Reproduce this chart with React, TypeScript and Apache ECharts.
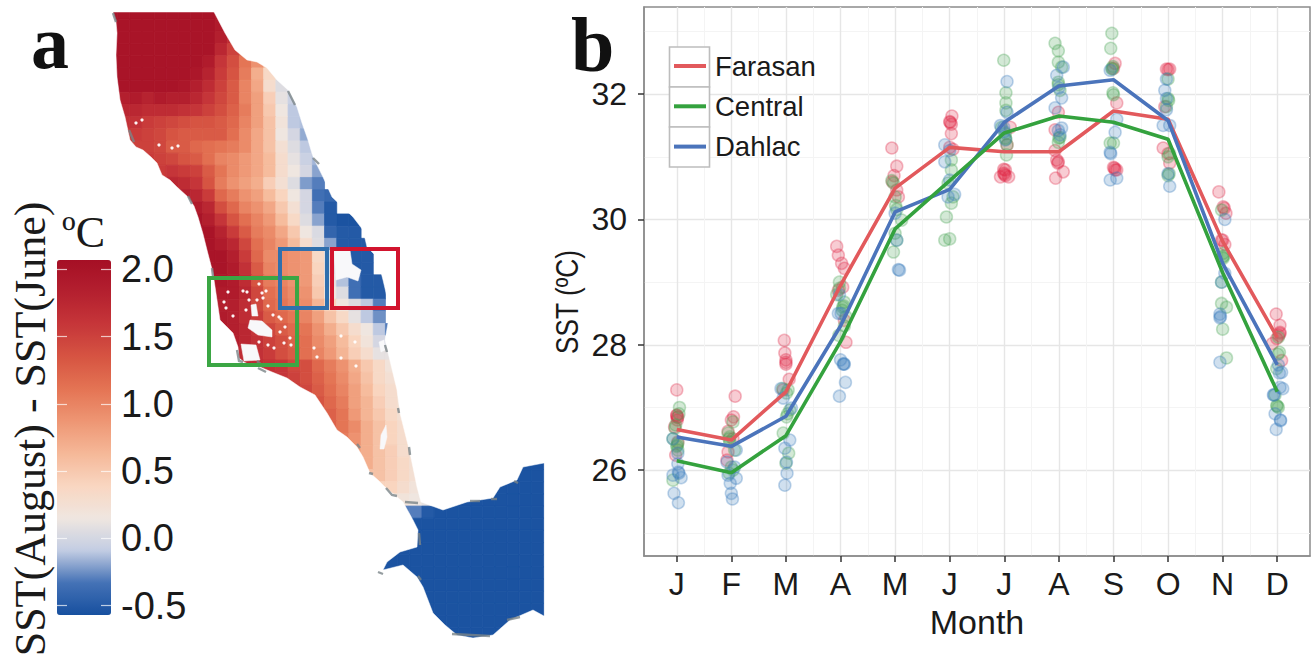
import React, { useEffect, useRef } from "react";
import * as echarts from "echarts";

const monthLabels = ["J", "F", "M", "A", "M", "J", "J", "A", "S", "O", "N", "D"];
const monthTicks = [1, 2, 3, 4, 5, 6, 7, 8, 9, 10, 11, 12];
const monthMinor = [1.5, 2.5, 3.5, 4.5, 5.5, 6.5, 7.5, 8.5, 9.5, 10.5, 11.5];
const sstTicks = [26, 28, 30, 32];
const sstMinor = [25, 27, 29, 31, 33];
const barTicks = [-0.5, 0, 0.5, 1, 1.5, 2];

const farasan = [26.65, 26.48, 27.25, 28.95, 30.5, 31.15, 31.08, 31.08, 31.73, 31.6, 29.65, 28.12];
const central = [26.15, 25.96, 26.55, 28.05, 29.85, 30.62, 31.38, 31.65, 31.55, 31.28, 29.15, 27.25];
const dahlac = [26.53, 26.38, 26.86, 28.3, 30.12, 30.48, 31.55, 32.13, 32.23, 31.58, 29.3, 27.68];

const farasanSites = [
  [1, 27.28], [1, 26.88], [1.02, 26.85], [0.96, 26.69], [1.02, 26.45], [0.98, 26.24], [1.01, 26.8], [1, 26.87], [1.01, 26.84],
  [2.07, 27.18], [2.04, 26.85], [2, 26.8], [1.94, 26.62], [2.03, 26.5], [1.94, 26.29], [1.92, 26.16],
  [2.97, 28.07], [2.98, 27.87], [3, 27.76], [3, 27.69], [3.06, 27.45], [2.95, 27.28], [3, 27.72],
  [3.93, 29.57], [3.96, 29.43], [4.02, 29.3], [4.07, 29.22], [3.96, 28.87], [4.04, 28.92], [4.07, 28.39], [4.1, 28.04],
  [4.94, 31.14], [5.03, 30.85], [4.98, 30.7], [4.95, 30.6], [5.03, 30.47], [5.06, 30.36],
  [6.04, 31.65], [6, 31.56], [6.03, 31.52], [6.03, 31.37], [6, 31.15], [6.06, 31.12], [6.01, 31.55],
  [7.11, 31.47], [7.05, 31.19], [7.02, 30.79], [6.93, 30.68], [7.08, 30.68], [6.99, 30.74], [6.99, 30.8], [7, 30.72], [7.02, 30.7],
  [7.99, 31.71], [7.93, 31.43], [7.93, 31.1], [7.99, 30.92], [8.08, 30.76], [7.94, 30.66], [7.96, 30.95], [7.98, 30.9],
  [9.03, 32.49], [9, 32.41], [9.06, 31.86], [9.03, 30.79], [9, 30.83], [9.06, 30.79], [9.02, 30.82],
  [10.03, 32.4], [9.97, 32.4], [9.94, 31.8], [9.91, 31.14], [10, 31.05], [10.03, 30.9], [10, 32.39],
  [10.93, 30.44], [11.01, 30.2], [11.06, 30.1], [10.98, 29.67], [11.04, 29.6], [11, 29.67], [11.03, 30.18],
  [11.98, 28.49], [12.05, 28.31], [12.05, 28.18], [11.99, 28.1], [11.91, 28.02], [12.08, 27.75], [12.03, 28.15], [12.05, 28.2],
];
const centralSites = [
  [1.05, 27], [1.04, 26.9], [0.98, 26.72], [0.93, 26.5], [1.02, 26.43], [1.02, 26.32], [0.93, 25.84], [0.97, 26.67], [1.01, 26.4], [1, 26.38],
  [2.03, 26.77], [1.94, 26.59], [1.97, 26.53], [2.06, 26.32], [2, 26.05], [2.03, 26], [1.96, 25.95], [1.97, 26.45], [1.96, 26.5],
  [3.04, 27.28], [3.01, 27.23], [3.07, 26.96], [3.01, 26.85], [2.95, 26.59], [3.05, 26.27], [3, 26.11], [2.94, 27.3], [3.03, 26.9],
  [3.98, 28.9], [3.93, 28.8], [4.03, 28.55], [4.07, 28.3], [3.97, 28.15], [4.07, 28.68], [3.98, 29], [4.1, 28.45], [4.04, 28.6], [4.06, 28.62],
  [4.97, 30.58], [5, 30.36], [5.03, 30.16], [5.12, 29.99], [5, 29.78], [5.03, 29.67], [4.97, 29.48], [4.94, 30.62], [5.01, 30.22],
  [6.03, 30.95], [6.03, 30.79], [5.97, 30.58], [6.06, 30.36], [6.03, 30.26], [5.94, 30.04], [5.91, 29.67], [6, 29.69],
  [6.99, 32.54], [7.03, 32.02], [7.03, 31.86], [7.03, 31.74], [6.95, 31.47], [7.02, 31.37], [7.05, 31.19], [7.04, 31.03], [7.02, 31.3], [7.03, 31.28],
  [7.93, 32.81], [7.99, 32.69], [7.99, 32.51], [8.05, 32.43], [7.99, 32.19], [8.02, 32.06], [8.02, 31.31], [7.99, 31.23], [7.99, 32.15], [8, 31.3],
  [8.97, 32.97], [8.95, 32.73], [8.97, 32.41], [8.99, 32.02], [9, 31.99], [8.94, 31.22], [9, 31.22], [8.98, 32.4], [8.99, 32.44],
  [10, 32.24], [10, 31.93], [9.97, 31.8], [10.03, 31.05], [10.02, 30.73], [10, 30.7], [10.01, 31.9], [10, 31],
  [10.98, 30.15], [11.01, 29.46], [11.01, 29.38], [10.98, 29], [10.98, 28.66], [11.07, 28.6], [11, 28.25], [11.07, 27.79], [11, 29.4], [11.02, 29.42],
  [12.02, 28.12], [12.04, 27.88], [11.99, 27.62], [11.96, 27.2], [11.99, 27.03], [12.02, 27], [12, 27.02], [12.01, 27.85],
];
const dahlacSites = [
  [1.02, 26.1], [0.93, 25.92], [1.04, 25.95], [1.08, 25.88], [0.95, 25.63], [1.03, 25.48], [1.02, 26.27], [0.93, 26.5], [1.03, 25.97],
  [2.09, 26.32], [1.92, 26.13], [2.06, 26.05], [2.09, 25.87], [1.98, 25.79], [2, 25.63], [2.02, 25.54], [1.94, 25.92],
  [2.91, 27.3], [2.95, 27.15], [3.1, 26.99], [3.07, 26.48], [2.98, 26.35], [3.01, 26.13], [3.02, 25.95], [2.98, 25.76],
  [3.98, 28.8], [3.96, 28.5], [4.01, 28.5], [4.07, 27.69], [4.05, 27.69], [4.09, 27.4], [3.98, 27.18], [4, 27.76], [4.06, 27.7],
  [5, 30.1], [5.03, 29.67], [5.08, 29.19], [5.06, 29.2],
  [5.91, 31.19], [6, 31.1], [5.91, 30.92], [6, 30.63], [6.09, 30.4], [5.97, 30.36],
  [7.05, 32.2], [7.05, 31.71], [6.93, 31.5], [6.99, 31.47], [7.02, 31.27], [7, 31.4],
  [8.08, 32.43], [7.96, 32.3], [8.05, 31.94], [7.93, 31.78], [8.05, 31.46], [7.99, 31.42], [8.02, 31.35], [8, 32.1],
  [8.94, 31.07], [9.03, 31.39], [9.06, 31.6], [8.94, 30.63], [9.06, 30.66], [8.94, 32.38], [8.95, 31.05],
  [9.97, 32.24], [9.94, 32.06], [9.97, 31.93], [10.03, 31.5], [9.91, 31.5], [10.03, 30.53], [10, 30.73], [9.97, 31.75],
  [11.04, 30], [11.04, 29.14], [10.98, 29], [10.95, 28.49], [10.95, 28.43], [10.95, 27.72], [10.96, 28.45],
  [12.02, 27.68], [12.08, 27.56], [12.05, 27.32], [12.1, 27.3], [11.93, 27.2], [11.96, 26.9], [12.06, 26.8], [11.98, 26.65], [12.06, 26.79], [11.94, 27.2], [12.04, 27.55],
];

// SST difference per grid cell, row by row from north to south: first number is the first column.
const cellRows: number[][] = [
  [0, 2, 2, 2, 2, 2, 2, 2, 2, 2, 1.9],
  [0, 2, 2, 2, 2, 2, 2, 2, 2, 2, 1.9, 1.8],
  [0, 2, 2, 2, 2, 2, 2, 2, 2, 2, 1.85, 1.7],
  [0, 2, 2, 2, 2, 2, 2, 2, 2, 2, 1.75, 1.5, 1.3],
  [0, 2, 2, 2, 2, 2, 2, 2, 2, 1.9, 1.6, 1.4, 1.1, 0.9, 0.6],
  [0, 2, 2, 2, 2, 2, 2, 2, 1.95, 1.8, 1.55, 1.35, 1.05, 0.7, 0.35, 0.1],
  [0, 2, 2, 2, 2, 2, 2, 1.95, 1.85, 1.7, 1.5, 1.3, 1, 0.75, 0.3, 0.05, -0.08],
  [0, 1.85, 1.85, 1.9, 1.8, 1.9, 1.85, 1.85, 1.75, 1.6, 1.45, 1.3, 1, 0.8, 0.45, 0.1, -0.05, -0.1],
  [0, 1.75, 1.75, 1.75, 1.7, 1.7, 1.7, 1.65, 1.6, 1.5, 1.4, 1.25, 1.05, 0.8, 0.5, 0.15, -0.1, -0.1],
  [1, 1.65, 1.65, 1.55, 1.5, 1.45, 1.4, 1.35, 1.35, 1.3, 1.2, 1, 0.8, 0.55, 0.2, -0.1, -0.13],
  [1, 1.55, 1.55, 1.5, 1.45, 1.35, 1.3, 1.3, 1.3, 1.3, 1.15, 0.95, 0.75, 0.55, 0.15, 0, -0.18, -0.18],
  [1, 1.5, 1.5, 1.5, 1.45, 1.3, 1.3, 1.2, 1.15, 1.1, 1.05, 0.95, 0.75, 0.55, 0.25, 0.05, -0.1, -0.15],
  [2, 1.55, 1.55, 1.5, 1.45, 1.35, 1.3, 1.15, 1, 0.95, 0.85, 0.75, 0.6, 0.3, 0.1, -0.05, -0.15],
  [2, 1.55, 1.55, 1.55, 1.6, 1.55, 1.5, 1.3, 1.1, 0.95, 0.85, 0.75, 0.6, 0.3, 0.15, 0, -0.2, -0.2],
  [3, 1.7, 1.75, 1.75, 1.7, 1.6, 1.35, 1.05, 0.9, 0.8, 0.7, 0.45, 0.25, 0.05, -0.22, -0.3],
  [4, 1.85, 1.85, 1.85, 1.75, 1.55, 1.2, 1.05, 0.9, 0.8, 0.6, 0.4, 0.15, 0, -0.35, -0.4],
  [5, 1.95, 1.95, 1.9, 1.75, 1.4, 1.2, 1, 0.9, 0.75, 0.5, 0.25, 0, -0.3, -0.5],
  [6, 2, 2, 1.85, 1.6, 1.35, 1.15, 1, 0.85, 0.6, 0.35, 0.05, -0.2, -0.5, -0.55, -0.55],
  [6, 2, 2, 2, 1.8, 1.55, 1.3, 1.05, 0.95, 0.75, 0.5, 0.15, 0.03, -0.42, -0.5, -0.5],
  [7, 2, 2, 1.9, 1.75, 1.45, 1.15, 1, 0.85, 0.6, 0.3, 0.05, -0.2, -0.5, -0.5, -0.5],
  [7, 2, 2, 2, 1.85, 1.55, 1.2, 0.95, 0.95, 0.9, 0.85, 0.35, 0.05, -0.5, -0.5, -0.5],
  [8, 2, 2, 1.9, 1.65, 1.3, 1, 0.95, 0.9, 0.85, 0.4, 0.05, -0.5, -0.5, -0.5],
  [8, 2, 1.95, 1.9, 1.7, 1.35, 1.05, 1, 0.9, 0.85, 0.45, 0.1, -0.12, -0.35, -0.5, -0.5],
  [8, 1.95, 1.9, 1.9, 1.75, 1.45, 1.15, 1.05, 0.95, 0.9, 0.5, 0.15, 0.05, -0.35, -0.5, -0.5],
  [8, 1.95, 1.85, 1.85, 1.7, 1.45, 1.2, 1.1, 1, 0.95, 0.65, 0.4, 0.15, 0.05, -0.1, -0.3],
  [8, 1.9, 1.9, 1.85, 1.7, 1.55, 1.3, 1.2, 1.1, 1, 0.8, 0.55, 0.35, 0.1, -0.1, -0.25],
  [9, 1.9, 1.85, 1.75, 1.6, 1.45, 1.3, 1.2, 1.1, 0.9, 0.7, 0.5, 0.3, 0.15, -0.1, -0.3],
  [9, 1.85, 1.85, 1.75, 1.65, 1.5, 1.4, 1.25, 1.15, 0.95, 0.8, 0.6, 0.4, 0.2, 0],
  [9, 1.8, 1.8, 1.7, 1.65, 1.55, 1.4, 1.3, 1.15, 1, 0.85, 0.65, 0.45, 0.3, 0.1, 0.1],
  [11, 1.75, 1.7, 1.65, 1.6, 1.45, 1.4, 1.2, 1.05, 0.9, 0.7, 0.5, 0.35, 0.2, 0.15],
  [13, 1.65, 1.6, 1.5, 1.4, 1.25, 1.1, 0.95, 0.75, 0.55, 0.35, 0.25, 0.2],
  [14, 1.55, 1.55, 1.45, 1.3, 1.15, 1, 0.8, 0.6, 0.4, 0.3, 0.2],
  [15, 1.5, 1.5, 1.35, 1.2, 1.05, 0.8, 0.65, 0.45, 0.3, 0.25, 0.25],
  [16, 1.45, 1.4, 1.25, 1.1, 0.85, 0.65, 0.5, 0.35, 0.25, 0.2],
  [17, 1.3, 1.25, 1.1, 0.95, 0.7, 0.55, 0.4, 0.3, 0.2, 0.2],
  [18, 1.1, 1.05, 0.9, 0.7, 0.55, 0.4, 0.3, 0.25, 0.2],
  [19, 0.8, 0.8, 0.7, 0.55, 0.45, 0.3, 0.25, 0.2],
  [20, 0.7, 0.7, 0.55, 0.45, 0.35, 0.25, 0.2],
  [21, 0.55, 0.55, 0.45, 0.35, 0.25, 0.2],
  [22, 0.4, 0.4, 0.3, 0.2, 0.15],
  [23, 0.2, 0.2, 0.15, 0.1],
  [24, -0.3, -0.3, -0.5],
];
// Gulf of Aden: row, first column, and the value of the whole stretch (all at the bottom of the scale).
const gulfStretches = [
  [37, 33, 3], [38, 32, 4], [39, 31, 5], [40, 27, 9], [41, 27, 9], [42, 25, 11], [43, 25, 11], [44, 22, 14],
  [45, 22, 14], [46, 22, 14], [47, 25, 11], [48, 25, 11], [49, 25, 11], [50, 25, 11], [51, 25, 11],
];
const gulfValue = -0.55;

const westCoast = [
  [105, 0], [215, 0], [215, 12], [113, 12], [116, 22], [117, 33], [116, 55], [117, 77], [120, 100], [125, 117], [130, 140], [136, 147], [143, 150],
  [151, 157], [157, 163], [162, 175], [170, 180], [177, 187], [188, 197], [194, 206], [198, 217], [203, 234], [207, 250], [213, 273], [217, 300], [220, 320],
  [228, 328], [233, 333], [238, 347], [239, 358], [244, 362], [252, 366], [260, 367], [272, 372], [287, 378], [300, 387], [315, 395],
  [321, 404], [327, 413], [337, 430], [347, 437], [357, 447], [363, 457], [370, 473], [378, 480], [385, 487], [397, 497], [403, 502], [413, 520],
  [418, 530], [417, 547], [400, 552], [387, 562], [383, 570], [403, 565], [417, 577], [423, 587], [428, 600], [433, 613], [445, 625],
  [457, 635], [473, 638], [493, 635], [510, 620], [533, 610], [544, 616], [550, 616], [550, 650], [105, 650],
];
const eastCoast = [
  [214, 0], [214, 12], [225, 33], [235, 50], [247, 60], [257, 62], [267, 68], [277, 80], [288, 90], [297, 107],
  [302, 123], [308, 140], [313, 157], [323, 177], [332, 197], [353, 217], [363, 230], [367, 247], [377, 257],
  [383, 280], [387, 297], [388, 323], [385, 340], [391, 365], [397, 390], [400, 413], [410, 453], [417, 487], [421, 502],
  [443, 510], [467, 502], [493, 498], [500, 487], [517, 480], [523, 467], [544, 463], [550, 463], [550, 0],
];
const islands = [
  [[250, 320], [262, 321], [272, 330], [272, 337], [258, 335], [248, 328]],
  [[251, 305], [256, 304], [258, 316], [252, 316]],
  [[241, 344], [256, 345], [260, 360], [244, 361]],
  [[334, 251], [350, 250], [352, 264], [361, 270], [358, 281], [347, 277], [336, 280]],
  [[381, 435], [386, 425], [387, 437], [384, 449], [380, 449]],
  [[379, 342], [384, 340], [385, 350], [381, 352]],
];
const specks = [
  [224, 302], [226, 308], [233, 316], [228, 292], [243, 291], [247, 292], [259, 284], [262, 293], [257, 300],
  [263, 298], [266, 291], [268, 306], [273, 315], [279, 317], [281, 319], [285, 327], [290, 338], [291, 345],
  [284, 343], [280, 332], [274, 348], [268, 345], [259, 342], [314, 348], [341, 336], [341, 358], [317, 357],
  [355, 342], [356, 366], [172, 148], [178, 146], [159, 145], [136, 123], [142, 120], [249, 300], [246, 310],
];
const coastStrokes = [
  [[113, 13], [116, 22]], [[129, 130], [134, 142]], [[188, 196], [192, 204]], [[212, 268], [213, 276]],
  [[288, 91], [295, 105]], [[313, 158], [319, 164]], [[237, 350], [239, 361], [243, 362]], [[257, 361], [264, 367]],
  [[258, 368], [266, 372]], [[385, 345], [387, 352]], [[398, 408], [399, 413]], [[409, 447], [410, 455]],
  [[357, 444], [360, 448]], [[369, 473], [373, 474]], [[386, 488], [392, 495], [397, 496]], [[405, 502], [418, 503]],
  [[419, 533], [420, 545]], [[378, 572], [383, 574]], [[418, 576], [421, 580]], [[452, 634], [490, 636]],
  [[507, 620], [520, 617]], [[514, 481], [518, 483]], [[470, 501], [480, 501]], [[491, 499], [497, 499]],
];
const boxes = [
  { x: 209, y: 278, w: 88, h: 87, color: "#3ba644" },
  { x: 280, y: 249, w: 47, h: 59, color: "#2f6fad" },
  { x: 332, y: 249, w: 66, h: 59, color: "#d2142e" },
];

const mapLeft = 105.5;
const mapTop = 7.1;
const cell = 12.17;
const barColors = ["#17509f", "#4472b6", "#c3cde3", "#efe6e0", "#f9d6c1", "#f5b898", "#ee9674", "#e47454", "#d65442", "#c63639", "#b4202f", "#a50f25"];

const cellData: number[][] = [];
cellRows.forEach((row, r) => row.slice(1).forEach((v, i) => cellData.push([row[0] + i, r, v])));
gulfStretches.forEach(([r, c, n]) => {
  for (let i = 0; i < n; i++) cellData.push([c + i, r, gulfValue]);
});

const sans = "'Liberation Sans', Arial, sans-serif";
const serif = "'Liberation Serif', 'Times New Roman', serif";
const pick = (list: number[]) => list.map((v, i) => [monthTicks[i], v]);

const polygonSeries = (polys: number[][][], fill: string, z: number) => ({
  type: "custom",
  coordinateSystem: "cartesian2d",
  xAxisIndex: 0,
  yAxisIndex: 0,
  silent: true,
  z,
  clip: false,
  data: polys.map((_, i) => [i]),
  renderItem: (p: any, api: any) => ({
    type: "polygon",
    shape: { points: polys[p.dataIndex].map((pt) => api.coord(pt)) },
    style: { fill, stroke: fill, lineWidth: 0.5 },
  }),
});

const siteSeries = (name: string, data: number[][], color: string) => ({
  type: "scatter",
  name: name + " sites",
  xAxisIndex: 2,
  yAxisIndex: 3,
  data,
  symbolSize: 12,
  z: 3,
  silent: true,
  itemStyle: { color: `rgba(${color},0.3)`, borderColor: `rgba(${color},0.4)`, borderWidth: 1.5 },
});
const lineSeries = (name: string, data: number[], color: string, z: number) => ({
  type: "line",
  name,
  xAxisIndex: 2,
  yAxisIndex: 3,
  data: pick(data),
  symbol: "none",
  z,
  silent: true,
  lineStyle: { color, width: 3.6 },
  itemStyle: { color },
});

export default function App() {
  const ref = useRef<HTMLDivElement>(null);
  useEffect(() => {
    const chart = echarts.init(ref.current!, undefined, { renderer: "svg" });
    chart.setOption({
      animation: false,
      backgroundColor: "#fff",
      grid: [
        { left: mapLeft, top: mapTop, width: 438, height: 633 },
        { left: 57, top: 260, width: 54, height: 355 },
        { left: 644, top: 7, width: 666, height: 549, show: true, borderColor: "#8c8c8c", borderWidth: 1.5, backgroundColor: "#fff" },
      ],
      xAxis: [
        { type: "value", gridIndex: 0, min: 105.5, max: 543.5, show: false },
        { type: "value", gridIndex: 1, min: 0, max: 1, show: false },
        {
          type: "value", gridIndex: 2, min: 0.4, max: 12.6, name: "Month", nameLocation: "middle", nameGap: 47,
          nameTextStyle: { fontFamily: sans, fontSize: 34, color: "#1a1a1a" },
          axisLine: { show: true, onZero: false, lineStyle: { color: "#8c8c8c", width: 1.5 } },
          axisTick: { show: true, length: 6, customValues: monthTicks, lineStyle: { color: "#333", width: 1.5 } },
          axisLabel: {
            customValues: monthTicks, margin: 12, fontFamily: sans, fontSize: 32, color: "#1a1a1a",
            formatter: (v: number) => monthLabels[Math.round(v) - 1],
          },
          splitLine: { show: true, lineStyle: { color: "#e6e6e6", width: 1.4 } },
        },
        {
          type: "value", gridIndex: 2, min: 0.4, max: 12.6, axisLine: { show: false }, axisLabel: { show: false },
          axisTick: { show: false, customValues: monthMinor },
          splitLine: { show: true, lineStyle: { color: "#f4f4f4", width: 1 } },
        },
      ],
      yAxis: [
        { type: "value", gridIndex: 0, min: 7.1, max: 640.1, inverse: true, show: false },
        {
          type: "value", gridIndex: 1, min: -0.57, max: 2.07, position: "left", z: 6,
          axisLine: { show: false }, axisLabel: { show: false }, splitLine: { show: false },
          axisTick: { show: true, inside: true, length: 10, customValues: barTicks, lineStyle: { color: "#ffffff", width: 1.2, opacity: 0.7 } },
        },
        {
          type: "value", gridIndex: 1, min: -0.57, max: 2.07, position: "right", z: 6,
          axisLine: { show: false }, splitLine: { show: false },
          axisTick: { show: true, inside: true, length: 10, customValues: barTicks, lineStyle: { color: "#ffffff", width: 1.2, opacity: 0.7 } },
          axisLabel: { customValues: barTicks, margin: 10, inside: false, fontFamily: sans, fontSize: 38, color: "#1a1a1a", formatter: (v: number) => v.toFixed(1) },
        },
        {
          type: "value", gridIndex: 2, min: 24.63, max: 33.39,
          axisLine: { show: true, onZero: false, lineStyle: { color: "#8c8c8c", width: 1.5 } },
          axisTick: { show: true, length: 6, customValues: sstTicks, lineStyle: { color: "#333", width: 1.5 } },
          axisLabel: { customValues: sstTicks, margin: 17, fontFamily: sans, fontSize: 32, color: "#1a1a1a" },
          splitLine: { show: true, lineStyle: { color: "#e6e6e6", width: 1.4 } },
        },
        {
          type: "value", gridIndex: 2, min: 24.63, max: 33.39, axisLine: { show: false }, axisLabel: { show: false },
          axisTick: { show: false, customValues: sstMinor },
          splitLine: { show: true, lineStyle: { color: "#f4f4f4", width: 1 } },
        },
      ],
      visualMap: {
        type: "continuous", min: -0.57, max: 2.07, seriesIndex: 0, dimension: 2, left: 57, top: 260, padding: 0,
        itemWidth: 54, itemHeight: 355, calculable: false, hoverLink: false, showLabel: false, text: null,
        inRange: { color: barColors }, z: 4,
      },
      legend: {
        data: ["Farasan", "Central", "Dahlac"], orient: "vertical", left: 674, top: 52, padding: 0, itemWidth: 32, itemHeight: 4,
        itemGap: 12.3, icon: "rect", selectedMode: false, z: 6,
        textStyle: { fontFamily: sans, fontSize: 27.5, color: "#1a1a1a", padding: [0, 0, 0, 4] },
      },
      series: [
        {
          type: "custom", name: "SST difference", coordinateSystem: "cartesian2d", xAxisIndex: 0, yAxisIndex: 0, silent: true,
          data: cellData, z: 1, encode: { x: 0, y: 1 },
          renderItem: (_: any, api: any) => {
            const c = api.value(0);
            const r = api.value(1);
            const a = api.coord([mapLeft + c * cell, mapTop + r * cell]);
            const color = api.visual("color");
            return { type: "rect", shape: { x: a[0], y: a[1], width: cell, height: cell }, style: { fill: color, stroke: color, lineWidth: 0.8 } };
          },
        },
        polygonSeries([westCoast, eastCoast], "#ffffff", 2),
        polygonSeries(islands, "#f8f8fa", 3),
        {
          type: "scatter", name: "islets", xAxisIndex: 0, yAxisIndex: 0, silent: true, data: specks, symbolSize: 3.2, z: 3,
          itemStyle: { color: "#ffffff", opacity: 0.95 },
        },
        {
          type: "custom", name: "coast", coordinateSystem: "cartesian2d", xAxisIndex: 0, yAxisIndex: 0, silent: true, z: 3,
          data: coastStrokes.map((_, i) => [i]),
          renderItem: (p: any, api: any) => ({
            type: "polyline",
            shape: { points: coastStrokes[p.dataIndex].map((pt) => api.coord(pt)) },
            style: { fill: "none", stroke: "#7a8488", lineWidth: 2.4, opacity: 0.8 },
          }),
        },
        siteSeries("Farasan", farasanSites, "225,40,70"),
        siteSeries("Central", centralSites, "70,165,85"),
        siteSeries("Dahlac", dahlacSites, "60,125,190"),
        lineSeries("Farasan", farasan, "#e2595c", 4),
        lineSeries("Dahlac", dahlac, "#4b74bb", 5),
        lineSeries("Central", central, "#34a23e", 6),
      ],
      graphic: [
        ...boxes.map((b) => ({
          type: "rect", z: 20, silent: true, shape: { x: b.x, y: b.y, width: b.w, height: b.h },
          style: { fill: "none", stroke: b.color, lineWidth: 4 },
        })),
        ...[0, 1, 2].map((i) => ({
          type: "rect", z: 5, silent: true, shape: { x: 669.5, y: 47 + i * 40, width: 40, height: 40 },
          style: { fill: "#fff", stroke: "#bdbdbd", lineWidth: 1.6 },
        })),
        {
          type: "text", z: 20, x: 30, y: 429, rotation: Math.PI / 2, silent: true,
          style: { text: "SST(August) - SST(June)", fontFamily: serif, fontSize: 44, fill: "#1a1a1a", textAlign: "center", textVerticalAlign: "middle" },
        },
        {
          type: "text", z: 20, x: 567, y: 302, rotation: Math.PI / 2, scaleX: 0.82, silent: true,
          style: { text: "SST (ºC)", fontFamily: sans, fontSize: 32, fill: "#1a1a1a", textAlign: "center", textVerticalAlign: "middle" },
        },
        { type: "text", z: 20, x: 62, y: 232, silent: true, style: { text: "ºC", fontFamily: serif, fontSize: 44, fill: "#1a1a1a", textVerticalAlign: "middle" } },
        { type: "text", z: 20, x: 31, y: 42, silent: true, style: { text: "a", fontFamily: serif, fontWeight: "bold", fontSize: 76, fill: "#111", textVerticalAlign: "middle" } },
        { type: "text", z: 20, x: 571, y: 44, silent: true, style: { text: "b", fontFamily: serif, fontWeight: "bold", fontSize: 78, fill: "#111", textVerticalAlign: "middle" } },
      ],
    });
    return () => chart.dispose();
  }, []);
  return <div ref={ref} style={{ position: "absolute", left: 0, top: 0, width: 1314, height: 655 }} />;
}
